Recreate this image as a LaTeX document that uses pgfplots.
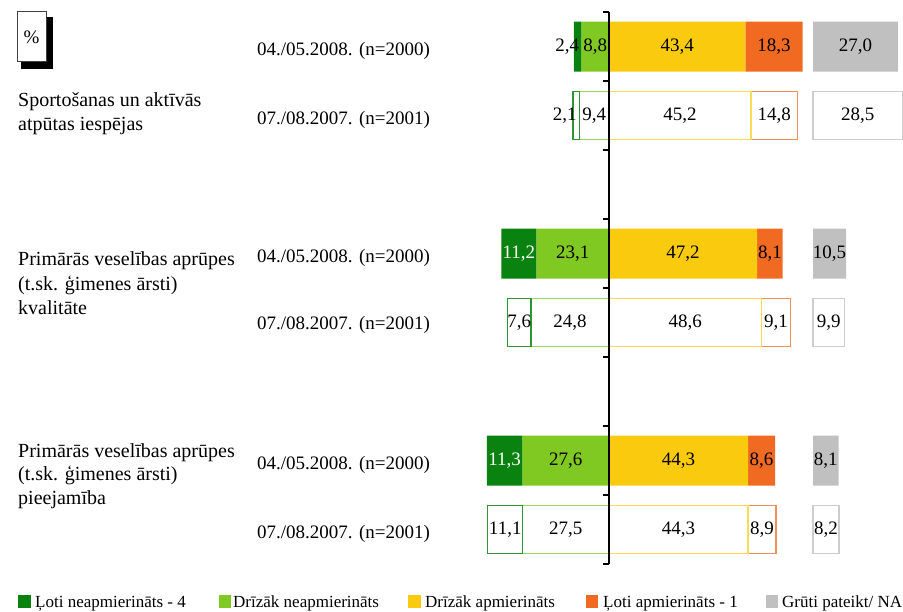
\documentclass[border=0pt]{standalone}
\usepackage{pgfplots}
\usepackage{pgfplotstable}
\pgfplotsset{compat=1.18}
\usepackage{fontspec}
\setmainfont{Liberation Serif}

\definecolor{dg}{RGB}{10,130,15}
\definecolor{lg}{RGB}{128,200,34}
\definecolor{yl}{RGB}{250,202,14}
\definecolor{orr}{RGB}{240,106,34}
\definecolor{gr}{RGB}{192,192,192}

\newcommand\valfont{\fontsize{19}{22}\selectfont}
\newcommand\rowfont{\fontsize{19}{22}\selectfont}
\newcommand\grpfont{\fontsize{20}{24}\selectfont}
\newcommand\legfont{\fontsize{17}{20}\selectfont}

% x axis is shifted: the zero line of the chart lies at 60
\pgfplotsset{
  base/.style={scale only axis, width=486.7pt, height=552pt,
    xmin=0, xmax=155, ymin=0, ymax=8, y dir=reverse,
    axis lines=none, clip=false, at={(420.6pt,48pt)}, anchor=south west},
  lbl/.style={draw=none, mark=none, point meta=explicit,
    nodes near coords={\pgfmathprintnumber[fixed,fixed zerofill,precision=1,use comma,assume math mode=true]{\pgfplotspointmeta}},
    every node near coord/.style={anchor=center, font=\valfont, inner sep=0pt, text=#1}},
}

\pgfplotstableread{
x y v
-13.3 0.5 2.4
-4.4 0.5 8.8
21.7 0.5 43.4
52.55 0.5 18.3
78.5 0.5 27.0
-14.1 1.5 2.1
-4.7 1.5 9.4
22.6 1.5 45.2
52.6 1.5 14.8
79.25 1.5 28.5
-11.55 3.5 23.1
23.6 3.5 47.2
51.25 3.5 8.1
70.25 3.5 10.5
-28.6 4.5 7.6
-12.4 4.5 24.8
24.3 4.5 48.6
53.15 4.5 9.1
69.95 4.5 9.9
-13.8 6.5 27.6
22.15 6.5 44.3
48.6 6.5 8.6
69.05 6.5 8.1
-33.05 7.5 11.1
-13.75 7.5 27.5
22.15 7.5 44.3
48.75 7.5 8.9
69.1 7.5 8.2
}\blacklabels

\pgfplotstableread{
x y v
-28.7 3.5 11.2
-33.25 6.5 11.3
}\whitelabels

\begin{document}
\begin{tikzpicture}
\useasboundingbox (0pt,0pt) rectangle (903pt,612pt);

% 2008 rows (filled)
\begin{axis}[base, xbar stacked, bar width=50pt]
\addplot[draw=none, fill=none] coordinates {(48.8,0.5) (25.7,3.5) (21.1,6.5)};
\addplot[fill=dg, draw=none] coordinates {(2.4,0.5) (11.2,3.5) (11.3,6.5)};
\addplot[fill=lg, draw=none] coordinates {(8.8,0.5) (23.1,3.5) (27.6,6.5)};
\addplot[fill=yl, draw=none] coordinates {(43.4,0.5) (47.2,3.5) (44.3,6.5)};
\addplot[fill=orr, draw=none] coordinates {(18.3,0.5) (8.1,3.5) (8.6,6.5)};
\addplot[draw=none, fill=none] coordinates {(3.3,0.5) (9.7,3.5) (12.1,6.5)};
\addplot[fill=gr, draw=none] coordinates {(27.0,0.5) (10.5,3.5) (8.1,6.5)};
\end{axis}

% 2007 rows (outlined)
\begin{axis}[base, xbar stacked, bar width=48.5pt]
\addplot[draw=none, fill=none] coordinates {(48.5,1.5) (27.6,4.5) (21.4,7.5)};
\addplot[fill=white, draw=dg!85, line width=1.3pt] coordinates {(2.1,1.5) (7.6,4.5) (11.1,7.5)};
\addplot[fill=white, draw=lg!75, line width=1.3pt] coordinates {(9.4,1.5) (24.8,4.5) (27.5,7.5)};
\addplot[fill=white, draw=yl!70, line width=1.3pt] coordinates {(45.2,1.5) (48.6,4.5) (44.3,7.5)};
\addplot[fill=white, draw=orr!75, line width=1.3pt] coordinates {(14.8,1.5) (9.1,4.5) (8.9,7.5)};
\addplot[draw=none, fill=none] coordinates {(5.0,1.5) (7.3,4.5) (11.8,7.5)};
\addplot[fill=white, draw=gr!80, line width=1.3pt] coordinates {(28.5,1.5) (9.9,4.5) (8.2,7.5)};
\end{axis}

% labels, zero line, ticks
\begin{axis}[base]
\addplot[lbl=black] table[x expr=\thisrow{x}+60, y=y, meta=v] {\blacklabels};
\addplot[lbl=white] table[x expr=\thisrow{x}+60, y=y, meta=v] {\whitelabels};
\draw[black, line width=1.3pt] (axis cs:60,0) -- (axis cs:60,8);
\pgfplotsinvokeforeach{0,...,8}{\draw[black, line width=1.3pt] (axis cs:60,#1) -- ++(-6pt,0pt);}
\end{axis}

% percent box
\fill[black] (21pt,543pt) rectangle (53pt,595pt);
\draw[fill=white, draw=black!75, line width=1pt] (17pt,550pt) rectangle (46pt,600pt);
\node[font=\rowfont, inner sep=0pt] at (31.5pt,575pt) {\%};

% row labels
\node[font=\rowfont, anchor=base west, inner sep=0pt] at (257pt,556pt) {04./05.2008. (n=2000)};
\node[font=\rowfont, anchor=base west, inner sep=0pt] at (257pt,487pt) {07./08.2007. (n=2001)};
\node[font=\rowfont, anchor=base west, inner sep=0pt] at (257pt,349pt) {04./05.2008. (n=2000)};
\node[font=\rowfont, anchor=base west, inner sep=0pt] at (257pt,282pt) {07./08.2007. (n=2001)};
\node[font=\rowfont, anchor=base west, inner sep=0pt] at (257pt,142pt) {04./05.2008. (n=2000)};
\node[font=\rowfont, anchor=base west, inner sep=0pt] at (257pt,73pt) {07./08.2007. (n=2001)};

% group labels
\node[font=\grpfont, anchor=base west, inner sep=0pt] at (18pt,505pt) {Sportošanas un aktīvās};
\node[font=\grpfont, anchor=base west, inner sep=0pt] at (18pt,481pt) {atpūtas iespējas};
\node[font=\grpfont, anchor=base west, inner sep=0pt] at (18pt,346pt) {Primārās veselības aprūpes};
\node[font=\grpfont, anchor=base west, inner sep=0pt] at (18pt,321pt) {(t.sk. ģimenes ārsti)};
\node[font=\grpfont, anchor=base west, inner sep=0pt] at (18pt,297pt) {kvalitāte};
\node[font=\grpfont, anchor=base west, inner sep=0pt] at (18pt,154pt) {Primārās veselības aprūpes};
\node[font=\grpfont, anchor=base west, inner sep=0pt] at (18pt,131pt) {(t.sk. ģimenes ārsti)};
\node[font=\grpfont, anchor=base west, inner sep=0pt] at (18pt,107pt) {pieejamība};

% legend
\fill[dg] (18pt,4pt) rectangle (31pt,17pt);
\node[font=\legfont, anchor=base west, inner sep=0pt] at (35pt,4.5pt) {Ļoti neapmierināts - 4};
\fill[lg] (219pt,4pt) rectangle (231pt,17pt);
\node[font=\legfont, anchor=base west, inner sep=0pt] at (233pt,4.5pt) {Drīzāk neapmierināts};
\fill[yl] (408pt,4pt) rectangle (421pt,17pt);
\node[font=\legfont, anchor=base west, inner sep=0pt] at (425pt,4.5pt) {Drīzāk apmierināts};
\fill[orr] (586pt,4pt) rectangle (598pt,17pt);
\node[font=\legfont, anchor=base west, inner sep=0pt] at (603pt,4.5pt) {Ļoti apmierināts - 1};
\fill[gr] (766pt,4pt) rectangle (778pt,17pt);
\node[font=\legfont, anchor=base west, inner sep=0pt] at (782pt,4.5pt) {Grūti pateikt/ NA};
\end{tikzpicture}
\end{document}
